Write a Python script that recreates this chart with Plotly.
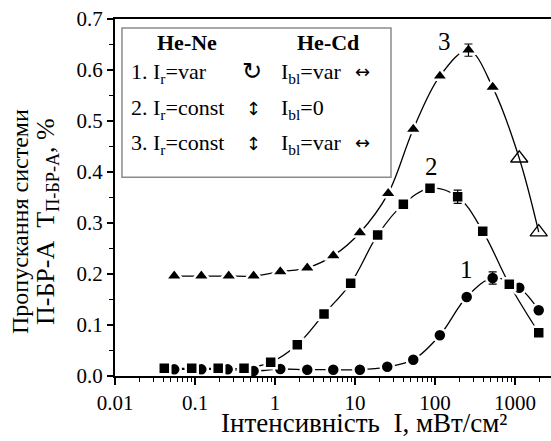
import plotly.graph_objects as go

# Intensity, mW/cm^2
x_circ = [0.055, 0.12, 0.256, 0.54, 1.165, 2.53, 5.35, 11.5, 25.3, 53.5, 115, 249, 526, 1130, 1980]
y_circ = [0.013, 0.013, 0.013, 0.0098, 0.0137, 0.0124, 0.0124, 0.0124, 0.018, 0.032, 0.080, 0.155, 0.192, 0.173, 0.129]
err_circ = [None] * 12 + [0.012, None, None]

x_sq = [0.0413, 0.091, 0.195, 0.41, 0.883, 1.9, 4.1, 8.83, 19.2, 40.2, 86.6, 192, 395, 849, 1980]
y_sq = [0.0151, 0.0151, 0.0151, 0.0151, 0.0269, 0.0614, 0.1216, 0.1818, 0.2765, 0.337, 0.368, 0.3516, 0.284, 0.180, 0.085]
err_sq = [None] * 11 + [0.013, None, None, None]

x_tri = [0.055, 0.12, 0.264, 0.54, 1.165, 2.53, 5.35, 11.5, 26, 53.5, 115, 262, 526, 1130, 1980]
y_tri = [0.196, 0.196, 0.196, 0.196, 0.2045, 0.212, 0.236, 0.281, 0.358, 0.484, 0.588, 0.639, 0.566, 0.427, 0.282]
err_tri = [None] * 11 + [0.012, None, None, None]
sym_tri = ["triangle-up"] * 13 + ["triangle-up-open"] * 2

decades = [0.01, 0.1, 1, 10, 100, 1000]
decade_labels = ["0.01", "0.1", "1", "10", "100", "1000"]
minor_x = [m * d for d in [0.01, 0.1, 1, 10, 100, 1000] for m in range(2, 10) if m * d < 3000]

FONT = "Times New Roman, Liberation Serif, serif"
SYM = "DejaVu Sans"
BLACK = "black"

fig = go.Figure()

series = [(x_circ, y_circ, err_circ), (x_sq, y_sq, err_sq), (x_tri, y_tri, err_tri)]

# smooth connecting curves first, markers on top with a white halo
for xs, ys, _ in series:
    fig.add_trace(go.Scatter(x=xs, y=ys, mode="lines",
                             line=dict(color=BLACK, width=1.3, shape="spline", smoothing=1.0),
                             hoverinfo="skip", showlegend=False))

def marker_trace(xs, ys, symbol, size, lw):
    return go.Scatter(
        x=xs, y=ys, mode="markers", showlegend=False,
        marker=dict(symbol=symbol, size=size, color=BLACK,
                    line=dict(color="white", width=lw)),
    )

fig.add_trace(marker_trace(x_circ, y_circ, "circle", 13, 2.5))
fig.add_trace(marker_trace(x_sq, y_sq, "square", 12, 2.5))
fig.add_trace(marker_trace(x_tri, y_tri, sym_tri, 15, [2.5] * 13 + [1.3] * 2))

# error bars on top of the markers
for xs, ys, errs in series:
    pts = [(x, y, e) for x, y, e in zip(xs, ys, errs) if e is not None]
    fig.add_trace(go.Scatter(
        x=[p[0] for p in pts], y=[p[1] for p in pts], mode="markers", showlegend=False,
        marker=dict(size=1, opacity=0), hoverinfo="skip",
        error_y=dict(type="data", array=[p[2] for p in pts], visible=True,
                     color=BLACK, thickness=1.2, width=4),
    ))

# curve numbers (log axis -> x given as log10 of intensity)
for txt, xl, yv in [("3", 2.124, 0.655), ("2", 1.962, 0.41), ("1", 2.396, 0.208)]:
    fig.add_annotation(x=xl, y=yv, xref="x", yref="y", text=txt, showarrow=False,
                       font=dict(family=FONT, size=25, color=BLACK),
                       xanchor="center", yanchor="middle")

# explanatory box
fig.add_shape(type="rect", xref="paper", yref="paper", x0=0.016, x1=0.633, y0=0.557, y1=0.975,
              line=dict(color="#8a8a8a", width=1.5), fillcolor="white", layer="above")

def paper_text(txt, px, py, size=22, anchor="left", bold=False, family=FONT, angle=0):
    fig.add_annotation(x=(px - 115) / 436, y=(376 - py) / 357, xref="paper", yref="paper",
                       text=f"<b>{txt}</b>" if bold else txt, showarrow=False, textangle=angle,
                       font=dict(family=family, size=size, color=BLACK),
                       xanchor=anchor, yanchor="middle")

paper_text("He-Ne", 187, 42, anchor="center", bold=True)
paper_text("He-Cd", 328, 42, anchor="center", bold=True)
paper_text("1. I<sub>r</sub>=var", 129, 73)
paper_text("2. I<sub>r</sub>=const", 129, 109)
paper_text("3. I<sub>r</sub>=const", 129, 144)
paper_text("↻", 252, 71, size=24, anchor="center", family=SYM)
paper_text("↕", 253, 108, size=18, anchor="center", family=SYM)
paper_text("↕", 253, 143, size=18, anchor="center", family=SYM)
paper_text("I<sub>bl</sub>=var", 279, 73)
paper_text("I<sub>bl</sub>=0", 279, 109)
paper_text("I<sub>bl</sub>=var", 279, 144)
paper_text("↔", 362, 71, size=18, anchor="center", family=SYM)
paper_text("↔", 362, 142, size=18, anchor="center", family=SYM)

# axis titles
paper_text("Інтенсивність  I, мВт/см²", 364, 423, size=27, anchor="center")
paper_text("Пропускання системи", 20, 222, size=24, anchor="center", angle=-90)
paper_text("П-БР-А  Т<sub>П-БР-А</sub>, %", 47, 222, size=26, anchor="center", angle=-90)

fig.update_layout(
    width=551, height=441,
    margin=dict(l=115, r=0, t=19, b=65),
    paper_bgcolor="white", plot_bgcolor="white",
    font=dict(family=FONT, color=BLACK),
    xaxis=dict(
        type="log", range=[-2, 3.45], automargin=False,
        tickmode="array", tickvals=decades, ticktext=decade_labels,
        ticks="outside", ticklen=7, tickwidth=1.5, tickcolor=BLACK,
        minor=dict(tickmode="array", tickvals=minor_x, ticks="outside", ticklen=4,
                   tickwidth=1.2, tickcolor=BLACK),
        showline=True, linewidth=2, linecolor=BLACK, mirror=True,
        showgrid=False, zeroline=False,
        tickfont=dict(family=FONT, size=21, color=BLACK),
    ),
    yaxis=dict(
        range=[0, 0.7], dtick=0.1, tickformat=".1f", automargin=False,
        ticks="outside", ticklen=6, tickwidth=1.5, tickcolor=BLACK,
        minor=dict(dtick=0.05, ticks="outside", ticklen=4, tickwidth=1.2, tickcolor=BLACK),
        showline=True, linewidth=2, linecolor=BLACK, mirror=False,
        showgrid=False, zeroline=False,
        tickfont=dict(family=FONT, size=21, color=BLACK),
    ),
)

fig.write_html("out.html")
